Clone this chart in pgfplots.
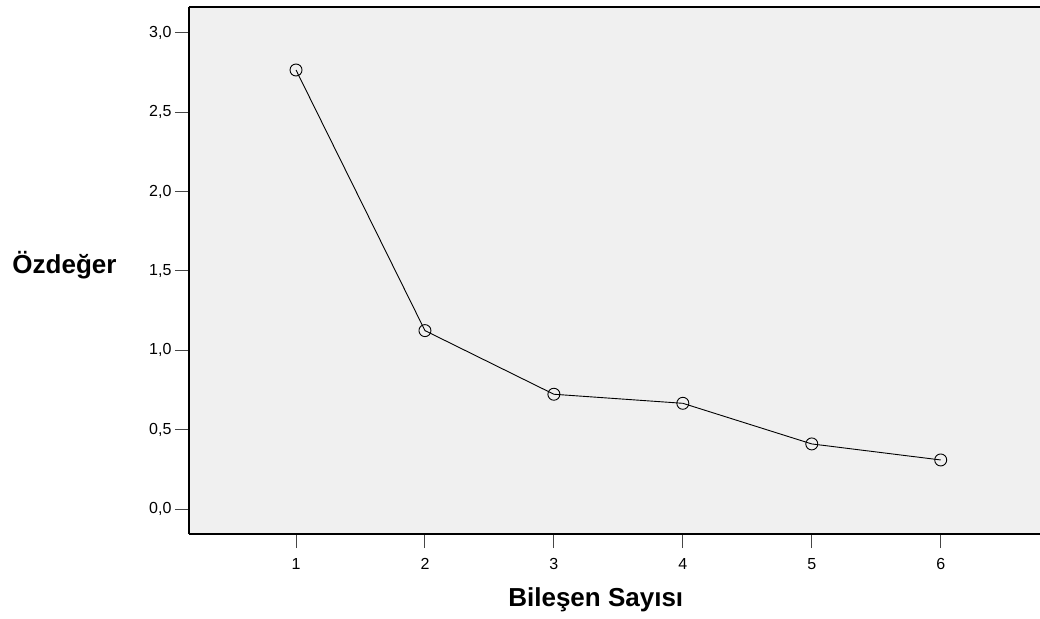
\documentclass[border=0pt]{standalone}
\usepackage{fontspec}
\setmainfont{Liberation Sans}
\usepackage{pgfplots}
\pgfplotsset{compat=1.18}
\definecolor{bgfill}{RGB}{240,240,240}
\definecolor{tickc}{RGB}{70,70,70}
\begin{document}
\begin{tikzpicture}
\begin{axis}[
  at={(0,0)}, anchor=south west,
  scale only axis,
  width=851pt, height=527pt,
  xmin=0.17, xmax=6.77,
  ymin=-0.1575, ymax=3.163,
  axis x line*=bottom, axis y line*=left,
  axis line style={line width=1.5pt, black},
  axis background/.style={fill=bgfill},
  xtick={1,2,3,4,5,6},
  ytick={0,0.5,1,1.5,2,2.5,3},
  tick align=outside,
  major tick length=14pt,
  tick style={draw=tickc, line width=1pt},
  /pgf/number format/assume math mode=true,
  ticklabel style={font=\fontsize{16}{19}\selectfont},
  yticklabel style={/pgf/number format/.cd, fixed, fixed zerofill, precision=1, use comma},
  xticklabel style={/pgf/number format/.cd, fixed, precision=0, /tikz/yshift=-7pt},
  xlabel={\textbf{Bileşen Sayısı}},
  xlabel style={font=\fontsize{26}{30}\selectfont, at={(axis description cs:0.478,-0.1385)}, anchor=base},
  ylabel={\textbf{Özdeğer}},
  ylabel style={font=\fontsize{26}{30}\selectfont, rotate=-90, at={(axis description cs:-0.1463,0.495)}, anchor=base},
  clip=false,
]
\addplot[black, line width=0.9pt, mark=o, mark size=6pt, mark options={line width=0.9pt}]
  coordinates {(1,2.766) (2,1.124) (3,0.723) (4,0.666) (5,0.410) (6,0.309)};
\draw[line width=1.5pt, black] (rel axis cs:0,1) -- (rel axis cs:1,1);
\end{axis}
\pgfresetboundingbox
\path (-189pt,-84pt) rectangle (851pt,534pt);
\end{tikzpicture}
\end{document}
